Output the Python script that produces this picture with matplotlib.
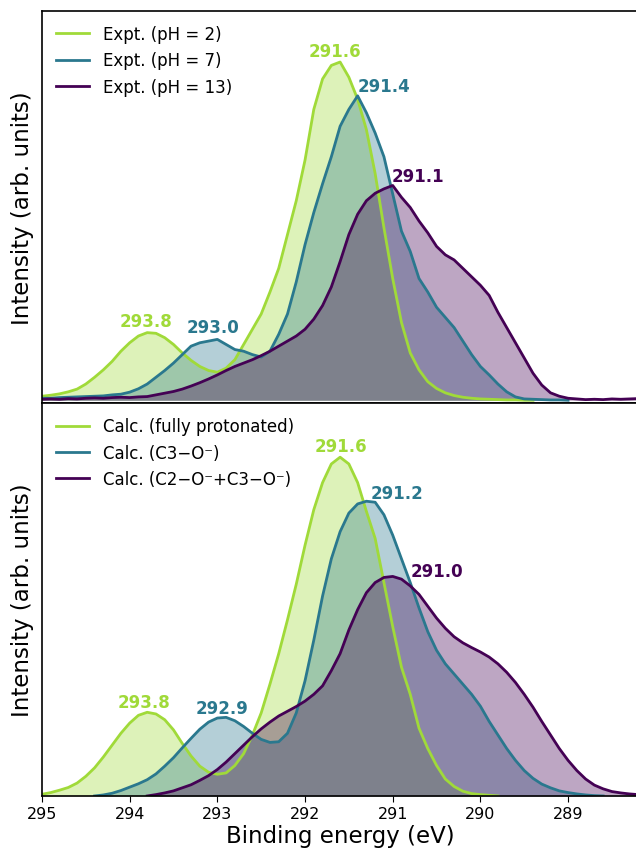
import numpy as np
import matplotlib
matplotlib.use("Agg")
import matplotlib.pyplot as plt

plt.rcParams['font.family'] = ['DejaVu Sans']

# Binding energy grid (eV), 295.0 -> 288.2 step 0.1
energy = [round(295.0 - 0.1 * i, 1) for i in range(69)]
NA = np.nan

# ---------------- Experimental spectra (top panel) ----------------
expt_ph2 = [0.012, 0.015, 0.019, 0.025, 0.033, 0.048, 0.068, 0.090, 0.115, 0.145,
            0.170, 0.190, 0.200, 0.198, 0.185, 0.165, 0.140, 0.118, 0.100, 0.088,
            0.083, 0.095, 0.120, 0.165, 0.210, 0.255, 0.320, 0.390, 0.490, 0.590,
            0.710, 0.860, 0.950, 0.990, 1.000, 0.955, 0.890, 0.800, 0.670, 0.510,
            0.360, 0.230, 0.140, 0.090, 0.055, 0.035, 0.022, 0.014, 0.009, 0.006,
            0.004, 0.003, 0.002, 0.001, 0.001, 0.000, 0.000,
            NA, NA, NA, NA, NA, NA, NA, NA, NA, NA, NA, NA]
expt_ph7 = [0.006, 0.006, 0.008, 0.009, 0.010, 0.011, 0.012, 0.013, 0.016, 0.018,
            0.024, 0.034, 0.048, 0.068, 0.088, 0.110, 0.135, 0.160, 0.170, 0.175,
            0.180, 0.165, 0.150, 0.145, 0.135, 0.128, 0.145, 0.195, 0.255, 0.350,
            0.460, 0.555, 0.640, 0.720, 0.810, 0.860, 0.900, 0.850, 0.790, 0.720,
            0.610, 0.500, 0.440, 0.360, 0.320, 0.275, 0.245, 0.215, 0.175, 0.135,
            0.100, 0.075, 0.048, 0.025, 0.010, 0.004, 0.003, 0.002, 0.001, 0.001,
            0.000, NA, NA, NA, NA, NA, NA, NA, NA]
expt_ph13 = [0.003, 0.004, 0.003, 0.005, 0.004, 0.006, 0.007, 0.006, 0.008, 0.009,
             0.008, 0.010, 0.011, 0.016, 0.021, 0.026, 0.033, 0.042, 0.052, 0.063,
             0.075, 0.088, 0.100, 0.110, 0.120, 0.132, 0.145, 0.160, 0.175, 0.190,
             0.210, 0.240, 0.280, 0.335, 0.410, 0.490, 0.550, 0.590, 0.612, 0.625,
             0.635, 0.600, 0.570, 0.530, 0.495, 0.455, 0.430, 0.415, 0.390, 0.365,
             0.340, 0.310, 0.260, 0.215, 0.170, 0.125, 0.080, 0.045, 0.022, 0.012,
             0.006, 0.004, 0.002, 0.003, 0.002, 0.004, 0.003, 0.004, 0.005]

# ---------------- Calculated spectra (bottom panel) ----------------
calc_protonated = [0.005, 0.010, 0.017, 0.025, 0.038, 0.058, 0.083, 0.115, 0.150, 0.185,
                   0.215, 0.238, 0.247, 0.242, 0.225, 0.195, 0.155, 0.118, 0.088, 0.070,
                   0.064, 0.068, 0.090, 0.125, 0.180, 0.245, 0.330, 0.420, 0.520, 0.625,
                   0.740, 0.845, 0.925, 0.980, 1.000, 0.980, 0.925, 0.840, 0.760, 0.630,
                   0.500, 0.380, 0.300, 0.200, 0.140, 0.090, 0.050, 0.028, 0.014, 0.007,
                   0.004, 0.002, 0.000,
                   NA, NA, NA, NA, NA, NA, NA, NA, NA, NA, NA, NA, NA, NA, NA, NA]
calc_c3 = [NA, NA, NA, NA, NA, NA,
           0.000, 0.003, 0.008, 0.016, 0.026, 0.036, 0.048, 0.065, 0.088, 0.113,
           0.142, 0.170, 0.197, 0.218, 0.230, 0.232, 0.222, 0.205, 0.185, 0.167,
           0.158, 0.160, 0.185, 0.245, 0.340, 0.460, 0.590, 0.700, 0.780, 0.835,
           0.862, 0.870, 0.867, 0.830, 0.770, 0.700, 0.630, 0.555, 0.485, 0.430,
           0.390, 0.360, 0.330, 0.300, 0.265, 0.220, 0.180, 0.140, 0.105, 0.075,
           0.052, 0.035, 0.024, 0.015, 0.010, 0.006, 0.003, 0.001, 0.000,
           NA, NA, NA, NA]
calc_c2_c3 = [NA, NA, NA, NA, NA, NA, NA, NA, NA, NA, NA, NA,
              0.000, 0.004, 0.009, 0.015, 0.024, 0.033, 0.046, 0.060, 0.078, 0.100,
              0.125, 0.150, 0.175, 0.198, 0.218, 0.236, 0.250, 0.264, 0.280, 0.300,
              0.325, 0.370, 0.420, 0.490, 0.550, 0.600, 0.630, 0.645, 0.648, 0.640,
              0.620, 0.595, 0.560, 0.525, 0.495, 0.470, 0.452, 0.438, 0.425, 0.410,
              0.390, 0.365, 0.335, 0.300, 0.262, 0.220, 0.180, 0.140, 0.105, 0.075,
              0.050, 0.032, 0.021, 0.013, 0.009, 0.006, 0.004]

top_labels = ["Expt. (pH = 2)", "Expt. (pH = 7)", "Expt. (pH = 13)"]
bottom_labels = ["Calc. (fully protonated)", "Calc. (C3\u2212O\u207b)",
                 "Calc. (C2\u2212O\u207b+C3\u2212O\u207b)"]
colors = ["#a0da39", "#2a788e", "#440154"]

# peak annotations: (text, x, y)
top_peaks = [("293.8", 293.81, 0.234), ("293.0", 293.05, 0.216),
             ("291.6", 291.66, 1.033), ("291.4", 291.10, 0.929),
             ("291.1", 290.71, 0.663)]
top_peak_colors = [colors[0], colors[1], colors[0], colors[1], colors[2]]
bottom_peaks = [("293.8", 293.84, 0.277), ("292.9", 292.95, 0.260),
                ("291.6", 291.59, 1.032), ("291.2", 290.95, 0.894),
                ("291.0", 290.50, 0.664)]
bottom_peak_colors = [colors[0], colors[1], colors[0], colors[1], colors[2]]

fig = plt.figure(figsize=(6.36, 8.53), dpi=100)
W = 0.9375
ax1 = fig.add_axes([0.066, 0.526, W, 0.460])
ax2 = fig.add_axes([0.066, 0.0657, W, 0.4603])

E = np.array(energy)

def draw(ax, series, labels):
    for vals, lab, c in zip(series, labels, colors):
        y = np.array(vals, dtype=float)
        m = ~np.isnan(y)
        ax.fill_between(E[m], 0, y[m], color=c, alpha=0.35, linewidth=0)
        ax.plot(E[m], y[m], color=c, lw=2.0, label=lab)

draw(ax1, [expt_ph2, expt_ph7, expt_ph13], top_labels)
draw(ax2, [calc_protonated, calc_c3, calc_c2_c3], bottom_labels)

for (t, x, y), c in zip(top_peaks, top_peak_colors):
    ax1.text(x, y, t, color=c, fontsize=12, fontweight='bold', ha='center', va='center')
for (t, x, y), c in zip(bottom_peaks, bottom_peak_colors):
    ax2.text(x, y, t, color=c, fontsize=12, fontweight='bold', ha='center', va='center')

ax1.set_ylim(-0.009, 1.151)
ax2.set_ylim(0, 1.159)
for ax in (ax1, ax2):
    ax.set_xlim(295, 288.2)
    ax.set_yticks([])
    ax.set_ylabel("Intensity (arb. units)", fontsize=16.5, labelpad=6)
    ax.legend(loc='upper left', frameon=False, fontsize=12,
              borderaxespad=0.45, handlelength=2.0, handletextpad=0.8)
    for s in ax.spines.values():
        s.set_linewidth(1.2)
ax1.set_xticks([295, 294, 293, 292, 291, 290, 289])
ax1.tick_params(axis='x', which='both', bottom=False, labelbottom=False)
ax2.set_xticks([295, 294, 293, 292, 291, 290, 289])
ax2.tick_params(axis='x', labelsize=11.5, length=4)
ax2.set_xlabel("Binding energy (eV)", fontsize=16.5, labelpad=2)

fig.savefig("out.png", dpi=100)
